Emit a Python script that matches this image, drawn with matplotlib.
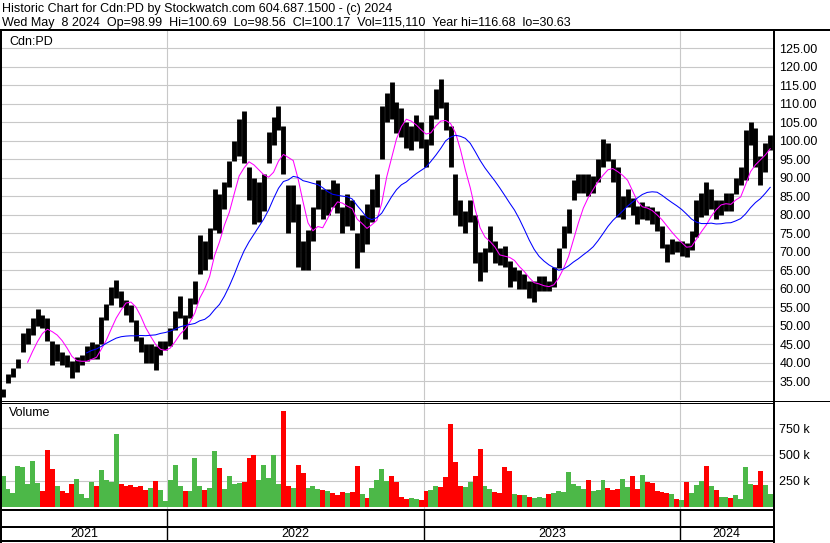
import numpy as np
import pandas as pd
import matplotlib
matplotlib.use("Agg")
import matplotlib.pyplot as plt
from matplotlib.lines import Line2D

plt.rcParams['font.family'] = ['Liberation Sans', 'DejaVu Sans']

# weekly bars (week of the wednesday date)
hi = [33, 37, 38.5, 41, 48, 49.5, 52, 54.5, 53, 52,
      46, 45, 43, 42, 40.5, 41.5, 42, 44.5, 45.5, 45,
      52.5, 56, 60.5, 62.4, 59.5, 57, 55.5, 51.5, 47, 45,
      45, 44.5, 46, 46, 49.5, 54, 58, 53, 57.5, 62,
      74.5, 73, 76.5, 87, 85.5, 89, 94.5, 100, 106, 108,
      93, 90, 89, 91, 102.5, 106.5, 109.4, 104, 88, 88,
      83, 73, 76, 82, 89.5, 87, 87, 89.5, 88.5, 82,
      85.5, 84, 75, 80, 83, 87, 91, 109.5, 113, 116,
      110.5, 109, 105, 104, 107, 105, 100.5, 107, 114, 116.68,
      110.5, 104, 91, 84, 81, 84, 80, 70, 71, 77,
      73, 71, 71.5, 67.5, 66, 65, 64, 62, 62, 63.5,
      63.5, 62, 66, 71, 77, 81.5, 89.5, 91, 91, 91,
      90.5, 95, 100.4, 99.5, 95, 93, 85, 87, 84.5, 82.5,
      83.5, 82.5, 82, 81, 77, 72, 73.5, 73, 73, 72.5,
      75.5, 84, 86, 89, 87, 84, 84, 86, 86, 90,
      93, 103, 105, 103.5, 96, 99.5, 101.5]
lo = [30.63, 34.5, 36.3, 38.5, 43, 45, 47.5, 50, 49.5, 46,
      39.5, 40.5, 39.5, 39, 35.8, 37.5, 39.5, 40.5, 41, 41,
      45, 51.5, 55.5, 57.5, 55, 53, 51, 46, 43, 40,
      40, 38, 42, 43.5, 44.5, 49, 52, 46.5, 52, 56,
      64, 65, 68, 76, 75, 81.5, 87.5, 94.5, 96, 94,
      84, 77.5, 78, 81, 94, 99, 103, 91, 75, 78,
      66, 65, 65, 73, 81.5, 79, 80, 82, 80.5, 75,
      77, 76, 65.5, 70, 72, 78, 82, 95, 105, 106,
      102, 101, 98, 97.5, 100, 98, 93, 99, 106, 109,
      103, 93, 80, 77, 75, 78, 67, 62, 64.5, 70,
      67, 66.5, 66, 60.5, 62, 60, 60, 57.5, 56.5, 59.5,
      59.5, 59.5, 60.5, 65.5, 71, 75, 84, 86, 86, 85,
      86, 89, 93, 94.5, 89, 79.5, 79, 82, 80, 77.5,
      79, 78.5, 77.5, 75.5, 71, 67.3, 69.5, 70, 69, 68.5,
      70.5, 74, 79.5, 80, 81.5, 79, 80, 81, 81, 85.5,
      88, 89.5, 99, 93, 88, 91.5, 97.5]
close = [32.5, 36, 38, 40.5, 46, 48, 50, 52, 51, 47.5,
         42, 42.5, 41, 40, 37.5, 40.5, 41, 42.5, 44, 43.5,
         51, 55, 59, 60, 57, 55, 52.5, 47, 44, 41.5,
         43, 42, 44.5, 45, 48, 52, 55, 50, 56, 60,
         72, 67, 75, 84, 78, 87, 93, 97, 104, 97,
         88, 82, 85, 89, 100, 105, 106, 93, 80, 84,
         70, 68, 72, 80, 87, 82, 85, 84, 83, 78,
         82, 78, 68, 77, 75, 84, 89, 106, 110, 108,
         106, 104, 101, 103, 104, 100, 99, 106, 112, 111,
         105, 95, 84, 79, 79, 82, 70, 65, 69, 72,
         70, 69, 68, 63, 64, 62, 62, 59, 60, 61,
         61, 60.5, 65, 70, 76, 80, 88, 88, 89, 87,
         89, 93, 98, 97, 91, 82, 83, 85, 81, 80,
         82, 80, 79, 78, 73, 70, 72, 71, 71, 70.5,
         74, 82, 84, 82, 85, 81, 82, 84, 83, 89,
         90, 101, 103, 95, 91, 97, 100.17]
# volume in thousands
vol = [300, 170, 130, 390, 380, 220, 440, 230, 150, 545,
       360, 200, 150, 130, 220, 270, 120, 90, 240, 200,
       350, 260, 240, 700, 220, 200, 210, 190, 200, 160,
       180, 250, 160, 60, 260, 400, 200, 150, 150, 470,
       200, 160, 180, 535, 370, 170, 300, 220, 230, 240,
       470, 500, 260, 400, 280, 500, 220, 915, 200, 180,
       400, 320, 180, 200, 170, 160, 150, 130, 110, 140,
       130, 140, 390, 120, 90, 180, 260, 360, 250, 300,
       240, 100, 80, 90, 80, 70, 150, 160, 200, 190,
       290, 790, 430, 200, 190, 240, 300, 550, 200, 170,
       140, 130, 385, 340, 120, 110, 110, 100, 90, 100,
       90, 120, 130, 150, 140, 330, 220, 200, 170, 260,
       150, 160, 255, 180, 160, 170, 265, 190, 300, 170,
       305, 240, 230, 150, 140, 130, 120, 80, 70, 240,
       130, 210, 250, 390, 200, 160, 100, 100, 90, 110,
       80, 385, 220, 210, 340, 210, 120]

years = ['2021', '2022', '2023', '2024']
price_ticks = list(range(35, 130, 5))
vol_ticks = [250, 500, 750]

header1 = 'Historic Chart for Cdn:PD by Stockwatch.com 604.687.1500 - (c) 2024'
header2 = ('Wed May  8 2024  Op=98.99  Hi=100.69  Lo=98.56  Cl=100.17  '
           'Vol=115,110  Year hi=116.68  lo=30.63')

W, H = 830, 543
weeks = pd.date_range('2021-05-12', periods=len(close), freq='W-WED')
s = pd.Series(close, index=weeks)
ma_fast = s.rolling(6).mean()
ma_slow = s.rolling(18).mean()
xlim = (pd.Timestamp('2021-05-09'), pd.Timestamp('2024-05-12'))
year_starts = [pd.Timestamp(f'{y}-01-01') for y in years[1:]]

fig = plt.figure(figsize=(W / 100, H / 100), dpi=100)
grid_col = '#c8c8c8'


def box(x0, y0, x1, y1):
    return [x0 / W, 1 - y1 / H, (x1 - x0) / W, (y1 - y0) / H]


# price panel
ax = fig.add_axes(box(1, 31, 773, 400))
ax.vlines(weeks, lo, hi, color='black', lw=3.5)
ax.plot(weeks, ma_fast, color='#ff00ff', lw=0.75)
ax.plot(weeks, ma_slow, color='#0000ff', lw=0.75)
ax.set_xlim(xlim)
ax.set_ylim(29.95, 129.68)
ax.set_yticks(price_ticks)
ax.yaxis.tick_right()
ax.yaxis.set_major_formatter('{x:.2f}')
ax.set_xticks(year_starts)
ax.tick_params(axis='y', length=0, pad=4.5, labelsize=9)
ax.tick_params(axis='x', length=0, labelbottom=False)
ax.grid(color=grid_col, lw=0.8)
ax.set_axisbelow(True)
for sp in ax.spines.values():
    sp.set_visible(False)

# volume panel
axv = fig.add_axes(box(1, 402, 773, 509))
colors = ['#4cb848'] + ['#4cb848' if close[i] >= close[i - 1] else '#ff0000'
                        for i in range(1, len(close))]
axv.bar(weeks, vol, width=7, color=colors)
axv.set_xlim(xlim)
axv.set_ylim(-19, 1002)
axv.set_yticks(vol_ticks)
axv.set_yticklabels([f'{v} k' for v in vol_ticks])
axv.yaxis.tick_right()
axv.set_xticks(year_starts)
axv.tick_params(axis='y', length=0, pad=4.5, labelsize=9)
axv.tick_params(axis='x', length=0, labelbottom=False)
axv.grid(color=grid_col, lw=0.8)
axv.set_axisbelow(True)
for sp in axv.spines.values():
    sp.set_visible(False)

# year strip
axy = fig.add_axes(box(1, 509, 773, 541))
axy.set_xlim(xlim)
axy.set_ylim(0, 1)
axy.axis('off')
axy.vlines(year_starts, 0, 1, color='black', lw=1)
edges = [xlim[0]] + year_starts + [xlim[1]]
for i, y in enumerate(years):
    mid = edges[i] + (edges[i + 1] - edges[i]) / 2
    axy.text(mid, 0.22, y, ha='center', va='center', fontsize=9)


def hline(y, x0, x1, lw):
    fig.add_artist(Line2D([x0 / W, x1 / W], [1 - y / H, 1 - y / H],
                          color='black', lw=lw * 0.72, transform=fig.transFigure))


def vline(x, y0, y1, lw):
    fig.add_artist(Line2D([x / W, x / W], [1 - y0 / H, 1 - y1 / H],
                          color='black', lw=lw * 0.72, transform=fig.transFigure))


hline(30.3, 0, 830, 2)
vline(774, 30, 543, 2)
vline(1, 30, 543, 2)
hline(400.5, 0, 830, 1)
hline(402.5, 0, 774, 1)
hline(509.5, 0, 774, 2)
hline(526.5, 0, 774, 2)
hline(541, 0, 774, 2)

fig.text(2 / W, 1 - 9 / H, header1, fontsize=9, va='center')
fig.text(2 / W, 1 - 23 / H, header2, fontsize=9, va='center')
fig.text(9 / W, 1 - 42 / H, 'Cdn:PD', fontsize=9, va='center')
fig.text(9 / W, 1 - 413 / H, 'Volume', fontsize=9, va='center')

fig.savefig('out.png', dpi=100)
